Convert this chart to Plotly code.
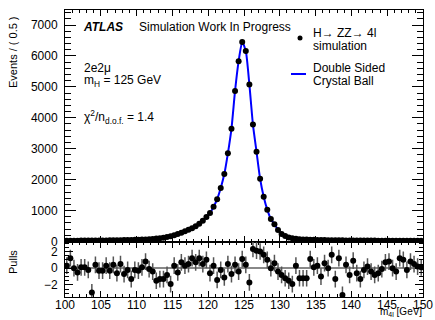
import numpy as np
import plotly.graph_objects as go

# ---- data ----
mass_lo, mass_hi, bin_width = 100.0, 150.0, 0.5
bin_centers = list(np.arange(mass_lo + bin_width / 2, mass_hi, bin_width))

events = [
    26, 27, 27, 28, 29, 30, 31, 32, 33, 34,            # 100.25 - 104.75
    35, 36, 37, 39, 41, 43, 45, 47, 50, 53,            # 105.25 - 109.75
    57, 62, 68, 75, 84, 95, 108, 125, 145, 170,        # 110.25 - 114.75
    200, 240, 280, 330, 380, 430, 490, 570, 670, 790,  # 115.25 - 119.75
    920, 1120, 1370, 1730, 2180, 2850, 3650, 4870, 5830, 6450,  # 120.25 - 124.75
    6160, 5080, 3780, 2900, 2030, 1450, 1030, 730, 560, 375,    # 125.25 - 129.75
    240, 175, 130, 105, 88, 76, 68, 62, 57, 53,        # 130.25 - 134.75
    50, 47, 45, 43, 41, 40, 38, 37, 36, 35,            # 135.25 - 139.75
    34, 33, 32, 31, 30, 30, 29, 28, 28, 27,            # 140.25 - 144.75
    27, 26, 26, 25, 25, 24, 24, 23, 23, 22,            # 145.25 - 149.75
]

fit_curve = [
    26, 27, 27, 28, 29, 30, 31, 32, 33, 34,
    35, 36, 37, 39, 41, 43, 45, 47, 50, 53,
    57, 62, 68, 75, 84, 95, 108, 125, 145, 170,
    200, 240, 280, 330, 380, 430, 490, 570, 670, 790,
    920, 1120, 1370, 1730, 2180, 2850, 3650, 4870, 5830, 6450,
    6160, 5080, 3780, 2900, 2030, 1450, 1030, 730, 560, 375,
    240, 175, 130, 105, 88, 76, 68, 62, 57, 53,
    50, 47, 45, 43, 41, 40, 38, 37, 36, 35,
    34, 33, 32, 31, 30, 30, 29, 28, 28, 27,
    27, 26, 26, 25, 25, 24, 24, 23, 23, 22,
]

pulls = [
    0.3, 1.2, 0.0, -0.5, 0.1, 0.1, -0.2, -2.9, 0.4, -0.3,
    -0.3, 0.3, -0.3, 0.4, -0.6, 0.5, -0.7, -0.2, -1.3, -0.2,
    -0.3, 0.1, 0.8, -0.1, -0.4, -1.5, -1.3, -1.3, -0.8, -1.9,
    0.3, -0.5, 0.7, 0.3, 0.5, 1.2, 0.7, 1.2, 0.5, 1.0,
    -0.6, 0.3, -1.4, -0.2, -1.1, 0.5, -0.7, 0.4, -0.4, 1.1,
    0.4, -1.7, 2.3, 2.1, 2.0, 1.6, 1.0, 0.0, 0.6, -0.4,
    -0.8, -1.2, -1.5, -1.9, 0.3, -1.2, -1.2, -1.2, 1.1, 0.1,
    0.3, -1.0, 0.6, 0.0, 1.6, -1.3, 1.2, -3.2, 0.4, -0.8,
    0.9, -0.6, -1.3, -0.2, 0.2, -0.4, -0.8, -0.6, -0.1, 0.7,
    0.8, 0.0, -0.4, 1.2, 1.0, -0.2, 0.8, 0.5, 0.2, 0.1,
]
pull_errors = [1.0] * len(pulls)

x_ticks = [100, 105, 110, 115, 120, 125, 130, 135, 140, 145, 150]
x_tick_text = ["100", "105", "110", "115", "120", "125", "130", "135", "140", "145", "150"]
y_ticks = [0, 1000, 2000, 3000, 4000, 5000, 6000, 7000]
pull_ticks = [-2, 0, 2]
pull_tick_text = ["\u22122", "0", "2"]

# ---- figure ----
W, H = 435, 320
ML, MR, MT, MB = 65, 12, 10, 23
PW, PH = W - ML - MR, H - MT - MB
FONT = "Liberation Sans, Arial, Helvetica, sans-serif"


def px(x):
    return (x - ML) / PW


def py(y):
    return (H - MB - y) / PH


fig = go.Figure()

fig.add_trace(go.Scatter(
    x=bin_centers, y=fit_curve, mode="lines",
    line=dict(color="#0000ff", width=2, shape="spline", smoothing=0.6),
    xaxis="x", yaxis="y", showlegend=False, hoverinfo="skip"))

fig.add_trace(go.Scatter(
    x=bin_centers, y=events, mode="markers",
    marker=dict(color="black", size=6),
    error_y=dict(type="data", array=list(np.sqrt(events)), color="black",
                 thickness=1, width=0),
    xaxis="x", yaxis="y", showlegend=False))

fig.add_trace(go.Scatter(
    x=bin_centers, y=pulls, mode="markers",
    marker=dict(color="black", size=6),
    error_y=dict(type="data", array=pull_errors, color="#555555",
                 thickness=1.5, width=0),
    xaxis="x2", yaxis="y2", showlegend=False, cliponaxis=True))

split = py(241.5)
axis_common = dict(showline=True, linecolor="black", linewidth=1,
                   ticks="inside", mirror="ticks", tickcolor="black",
                   showgrid=False, automargin=False,
                   tickfont=dict(family=FONT, size=12, color="black"))

fig.update_layout(
    template="none",
    width=W, height=H,
    margin=dict(l=ML, r=MR, t=MT, b=MB, autoexpand=False),
    paper_bgcolor="white", plot_bgcolor="white",
    font=dict(family=FONT, size=12, color="black"),
    xaxis=dict(domain=[0, 1], range=[mass_lo, mass_hi], anchor="y",
               tickvals=x_ticks, showticklabels=False, ticklen=6, zeroline=False,
               minor=dict(ticks="inside", dtick=1, ticklen=3, tickcolor="black"),
               **axis_common),
    yaxis=dict(domain=[split, 1], range=[0, 7486], anchor="x",
               tickvals=y_ticks, ticklen=11, ticklabelstandoff=4, zeroline=False,
               minor=dict(ticks="inside", dtick=200, ticklen=6, tickcolor="black"),
               **axis_common),
    xaxis2=dict(domain=[0, 1], range=[mass_lo, mass_hi], anchor="y2",
                tickvals=x_ticks, ticklen=6, showticklabels=False, zeroline=False,
                minor=dict(ticks="inside", dtick=1, ticklen=3, tickcolor="black"),
                **axis_common),
    yaxis2=dict(domain=[0, split], range=[-3.45, 3.2], anchor="x2",
                tickvals=pull_ticks, ticktext=pull_tick_text, ticklen=8,
                ticklabelstandoff=4,
                minor=dict(ticks="inside", dtick=0.5, ticklen=4, tickcolor="black"),
                zeroline=True, zerolinecolor="#888888", zerolinewidth=1.5,
                **axis_common),
)

ann = []

# x tick labels of the pull panel, placed on the x2 data scale
for tv, tt in zip(x_ticks, x_tick_text):
    ann.append(dict(x=tv, xref="x2", y=py(305), yref="paper", text=tt,
                    showarrow=False, xanchor="center", yanchor="middle",
                    font=dict(family=FONT, size=12, color="black")))


def text(x, y, s, size=12, xanchor="left", yanchor="middle", angle=0):
    ann.append(dict(x=px(x), y=py(y), xref="paper", yref="paper", text=s,
                    showarrow=False, xanchor=xanchor, yanchor=yanchor,
                    textangle=angle,
                    font=dict(family=FONT, size=size, color="black")))


text(81, 27, "<b><i>ATLAS</i></b>", size=12)
text(137, 27, "Simulation Work In Progress", size=12)
text(82, 68, "2e2\u03bc", size=12)
text(82, 81, "m<sub>H</sub> = 125 GeV", size=12)
text(82, 117, "\u03c7<sup>2</sup>/n<sub>d.o.f.</sub> = 1.4", size=12)
text(311, 33, "H\u2192 ZZ\u2192 4l", size=12)
text(311, 46, "simulation", size=12)
text(311, 68, "Double Sided", size=12)
text(311, 81, "Crystal Ball", size=12)
text(13, 52, "Events / ( 0.5 )", size=11, xanchor="center", angle=-90)
text(13, 262, "Pulls", size=11, xanchor="center", angle=-90)
text(424, 320, "m<sub>4l</sub> [GeV]", size=10, xanchor="right", yanchor="bottom")

fig.update_layout(annotations=ann)

# legend marker and line
fig.add_shape(type="line", xref="paper", yref="paper",
              x0=px(291), x1=px(306), y0=py(74), y1=py(74),
              line=dict(color="#0000ff", width=2))
fig.add_shape(type="circle", xref="paper", yref="paper",
              x0=px(297.5), x1=px(302.5), y0=py(40.5), y1=py(35.5),
              fillcolor="black", line=dict(color="black", width=0))

fig.write_html("out.html")
